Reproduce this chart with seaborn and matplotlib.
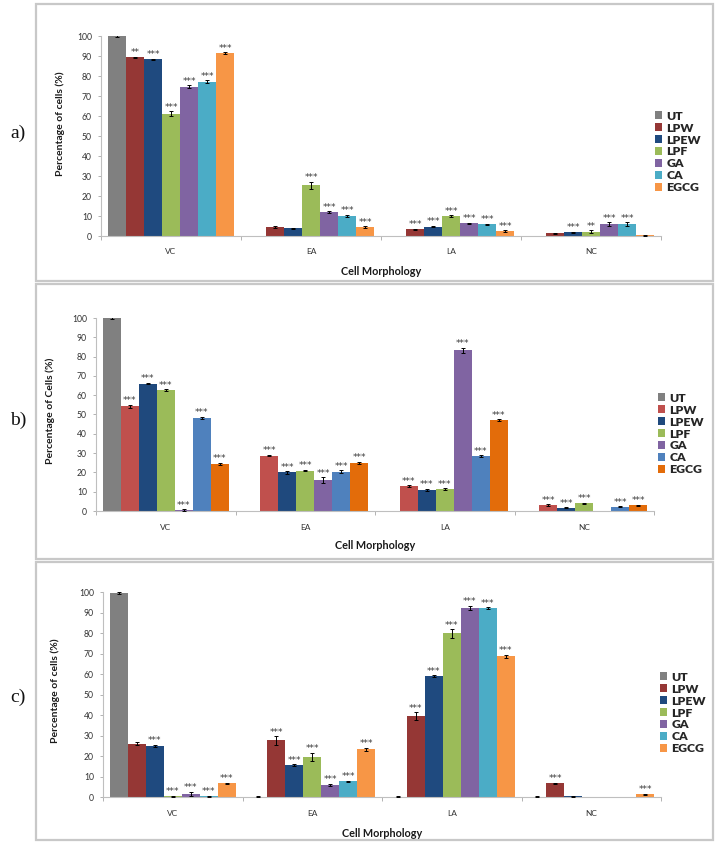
# three-panel grouped bar chart: cell morphology per treatment
import numpy as np
import pandas as pd
import matplotlib
matplotlib.use('Agg')
import matplotlib.pyplot as plt
import seaborn as sns
from matplotlib.patches import Rectangle
from matplotlib.ticker import FixedLocator

morphs = ['VC', 'EA', 'LA', 'NC']
treatments = ['UT', 'LPW', 'LPEW', 'LPF', 'GA', 'CA', 'EGCG']

# rows = treatments, columns = VC, EA, LA, NC
a_mean = [
    [100.0, 0.0, 0.0, 0.0],
    [89.3, 4.5, 3.3, 1.3],
    [88.3, 3.8, 4.7, 1.9],
    [61.2, 25.4, 10.0, 2.2],
    [74.7, 11.9, 6.3, 5.9],
    [77.2, 10.1, 5.8, 6.0],
    [91.5, 4.5, 2.5, 0.3],
]
a_err = [
    [0.3, 0, 0, 0],
    [0.4, 0.4, 0.4, 0.2],
    [0.3, 0.2, 0.4, 0.3],
    [1.2, 1.8, 0.5, 0.8],
    [0.8, 0.6, 0.4, 1.0],
    [0.8, 0.5, 0.4, 0.8],
    [0.3, 0.5, 0.5, 0.2],
]
a_sig = [
    ['', '', '', ''],
    ['**', '', '***', ''],
    ['***', '', '***', '***'],
    ['***', '***', '***', '**'],
    ['***', '***', '***', '***'],
    ['***', '***', '***', '***'],
    ['***', '***', '***', ''],
]

b_mean = [
    [100.0, 0.0, 0.0, 0.0],
    [54.3, 28.7, 12.8, 3.1],
    [66.0, 20.0, 11.0, 1.7],
    [62.6, 20.9, 11.4, 4.0],
    [0.5, 16.0, 83.2, 0.0],
    [48.2, 20.4, 28.4, 2.2],
    [24.5, 24.9, 47.1, 2.9],
]
b_err = [
    [0.3, 0, 0, 0],
    [0.8, 0.4, 0.5, 0.4],
    [0.4, 0.6, 0.5, 0.3],
    [0.5, 0.4, 0.5, 0.4],
    [0.3, 1.6, 1.5, 0],
    [0.6, 0.6, 0.4, 0.3],
    [0.5, 0.6, 0.6, 0.4],
]
b_sig = [
    ['', '', '', ''],
    ['***', '***', '***', '***'],
    ['***', '***', '***', '***'],
    ['***', '***', '***', '***'],
    ['***', '***', '***', ''],
    ['***', '***', '***', '***'],
    ['***', '***', '***', '***'],
]

c_mean = [
    [99.6, 0.2, 0.2, 0.2],
    [26.0, 27.6, 39.6, 6.6],
    [25.0, 15.7, 59.0, 0.3],
    [0.4, 19.6, 79.8, 0.0],
    [1.6, 5.9, 92.2, 0.0],
    [0.4, 7.6, 92.0, 0.0],
    [6.6, 23.2, 68.6, 1.4],
]
c_err = [
    [0.4, 0.3, 0.3, 0.3],
    [0.8, 2.0, 1.8, 0.4],
    [0.5, 0.4, 0.4, 0.2],
    [0.3, 2.0, 2.0, 0],
    [1.0, 0.5, 1.2, 0],
    [0.3, 0.4, 0.5, 0],
    [0.4, 0.8, 0.8, 0.3],
]
c_sig = [
    ['', '', '', ''],
    ['', '***', '***', '***'],
    ['***', '***', '***', ''],
    ['***', '***', '***', ''],
    ['***', '***', '***', ''],
    ['***', '***', '***', ''],
    ['***', '***', '***', '***'],
]

pal_ac = ['#808080', '#953735', '#1f4a7f', '#9bbb59', '#8064a2', '#4bacc6', '#f79646']
pal_b = ['#808080', '#c0504d', '#1f497d', '#9bbb59', '#8064a2', '#4f81bd', '#e36c0a']

sns.set_style('white')
plt.rcParams['font.family'] = ['Lato', 'DejaVu Sans']

W, H = 722, 846
fig = plt.figure(figsize=(W / 100, H / 100), dpi=100)


def fx(px):
    return px / W


def fy(py):
    return 1 - py / H


panels = [
    # tag, mean, err, sig, palette, axes box (x0, x1, y100, y0 px), ylabel, legend (x, ycenter), frame (top, bottom), tag y
    ('a)', a_mean, a_err, a_sig, pal_ac, (101, 661, 36, 236), 'Percentage of cells (%)', (655, 152), (4, 281), 133, 0.56, -0.064),
    ('b)', b_mean, b_err, b_sig, pal_b, (96, 654, 318, 511), 'Percentage of Cells (%)', (658, 434), (284, 559), 420, 0.52, -0.073),
    ('c)', c_mean, c_err, c_sig, pal_ac, (103, 661, 592, 797), 'Percentage of cells (%)', (660, 713), (562, 840), 697, 0.52, -0.077),
]

for tag, mean, err, sig, pal, box, ylab, leg, frame, tag_y, ylab_y, ylab_x in panels:
    x0, x1, ytop, ybot = box
    ax = fig.add_axes([fx(x0), fy(ybot), fx(x1) - fx(x0), (ybot - ytop) / H])

    rows = []
    for i, t in enumerate(treatments):
        for j, m in enumerate(morphs):
            rows.append({'morph': m, 'treat': t, 'pct': mean[i][j]})
    df = pd.DataFrame(rows)

    sns.barplot(data=df, x='morph', y='pct', hue='treat', order=morphs,
                hue_order=treatments, palette=dict(zip(treatments, pal)),
                width=0.9, gap=0, errorbar=None, linewidth=0, saturation=1, ax=ax)

    bar_groups = list(ax.containers)
    for i, cont in enumerate(bar_groups):
        xs = np.array([b.get_x() + b.get_width() / 2 for b in cont])
        hs = np.array([b.get_height() for b in cont])
        es = np.array(err[i], dtype=float)
        keep = es > 0
        ax.errorbar(xs[keep], hs[keep], yerr=es[keep], fmt='none', ecolor='black',
                    elinewidth=0.7, capsize=1.5, capthick=0.7, zorder=3)
        for j in range(len(morphs)):
            if sig[i][j]:
                ax.text(xs[j], hs[j] + es[j] - 0.3, sig[i][j], ha='center', va='bottom',
                        fontsize=6.5, color='#3a3a3a', family='DejaVu Sans')

    ax.set_ylim(0, 100)
    ax.set_xlim(-0.5, 3.5)
    ax.set_yticks(range(0, 101, 10))
    ax.tick_params(axis='y', length=2.5, width=0.6, color='#a6a6a6', pad=4,
                   labelsize=6.2, labelcolor='#333333', left=True)
    ax.tick_params(axis='x', which='major', length=0, pad=9, labelsize=6, labelcolor='#333333')
    ax.xaxis.set_minor_locator(FixedLocator([-0.5, 0.5, 1.5, 2.5, 3.5]))
    ax.tick_params(axis='x', which='minor', length=3, width=0.6, color='#a6a6a6', bottom=True)
    for s in ['top', 'right']:
        ax.spines[s].set_visible(False)
    for s in ['left', 'bottom']:
        ax.spines[s].set_color('#bfbfbf')
        ax.spines[s].set_linewidth(0.8)

    ax.set_ylabel(ylab, fontsize=7.5, fontweight='bold', color='#1a1a1a')
    ax.yaxis.set_label_coords(ylab_x, ylab_y)
    ax.set_xlabel('Cell Morphology', fontsize=7.8, fontweight='bold', color='#1a1a1a')
    ax.xaxis.set_label_coords(0.5, -0.15)

    handles, labels = ax.get_legend_handles_labels()
    ax.get_legend().remove()
    fig.legend(handles, labels, loc='center left', bbox_to_anchor=(fx(leg[0]), fy(leg[1])),
               frameon=False, prop={'weight': 'heavy', 'size': 8.8},
               handlelength=0.6, handleheight=0.6, handletextpad=0.35, labelspacing=0.08,
               borderpad=0, borderaxespad=0)

    fig.patches.append(Rectangle((fx(36), fy(frame[1])), fx(713) - fx(36),
                                 (frame[1] - frame[0]) / H, transform=fig.transFigure,
                                 fill=False, edgecolor='#c8c8c8', linewidth=1.6))
    fig.text(fx(10), fy(tag_y), tag, family='Liberation Serif', fontsize=14,
             ha='left', va='center', color='#111111')

fig.savefig('out.png', dpi=100)
